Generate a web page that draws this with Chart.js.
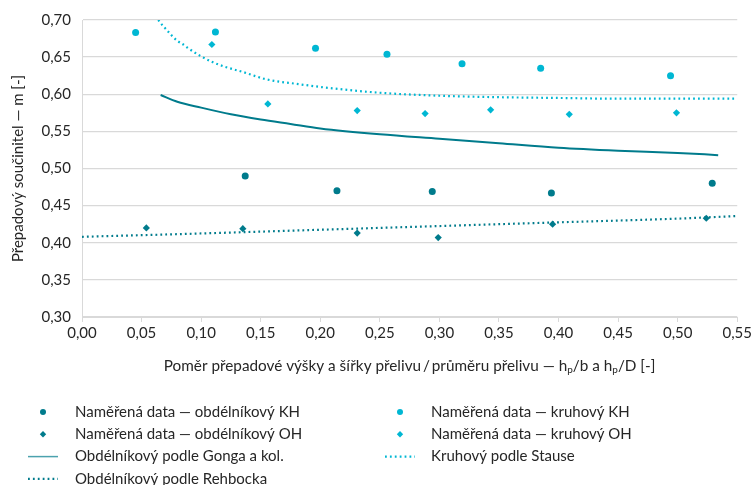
<!DOCTYPE html>
<html>
<head>
<meta charset="utf-8">
<script src="https://cdn.jsdelivr.net/npm/chart.js@4.4.0/dist/chart.umd.min.js"></script>
<style>
  html, body { margin: 0; padding: 0; background: #fff; }
  #chart { display: block; }
</style>
</head>
<body>
<canvas id="chart" width="754" height="485"></canvas>
<script>
// Naměřená data – obdélníkový přeliv
const obdKhX = [0.137, 0.214, 0.294, 0.394, 0.529];
const obdKhY = [0.490, 0.470, 0.469, 0.467, 0.480];
const obdOhX = [0.054, 0.135, 0.231, 0.299, 0.395, 0.524];
const obdOhY = [0.420, 0.419, 0.413, 0.407, 0.425, 0.433];

// Naměřená data – kruhový přeliv
const kruhKhX = [0.045, 0.112, 0.196, 0.256, 0.319, 0.385, 0.494];
const kruhKhY = [0.683, 0.684, 0.662, 0.654, 0.641, 0.635, 0.625];
const kruhOhX = [0.109, 0.156, 0.231, 0.288, 0.343, 0.409, 0.499];
const kruhOhY = [0.667, 0.587, 0.578, 0.574, 0.579, 0.573, 0.575];

// Teoretické křivky
const gongaX = [0.066, 0.080, 0.100, 0.125, 0.150, 0.175, 0.200, 0.250, 0.300, 0.350, 0.400, 0.450, 0.500, 0.534];
const gongaY = [0.599, 0.590, 0.582, 0.573, 0.566, 0.560, 0.554, 0.546, 0.540, 0.534, 0.528, 0.524, 0.521, 0.518];
const stauseX = [0.064, 0.068, 0.072, 0.076, 0.080, 0.085, 0.090, 0.100, 0.110, 0.120, 0.135, 0.155, 0.180, 0.210, 0.250, 0.300, 0.350, 0.400, 0.450, 0.500, 0.550];
const stauseY = [0.700, 0.692, 0.685, 0.678, 0.672, 0.667, 0.661, 0.651, 0.643, 0.637, 0.630, 0.620, 0.614, 0.608, 0.602, 0.598, 0.596, 0.595, 0.594, 0.594, 0.594];
const rehbockX = [0.00, 0.10, 0.20, 0.30, 0.40, 0.50, 0.55];
const rehbockY = [0.408, 0.4125, 0.4175, 0.4225, 0.4275, 0.4325, 0.436];

// Popisky os
const xTicks = [0, 0.05, 0.10, 0.15, 0.20, 0.25, 0.30, 0.35, 0.40, 0.45, 0.50, 0.55];
const yTicks = [0.30, 0.35, 0.40, 0.45, 0.50, 0.55, 0.60, 0.65, 0.70];
const seriesLabels = [
    'Naměřená data — obdélníkový KH',
    'Naměřená data — obdélníkový OH',
    'Obdélníkový podle Gonga a kol.',
    'Obdélníkový podle Rehbocka',
    'Naměřená data — kruhový KH',
    'Naměřená data — kruhový OH',
    'Kruhový podle Stause'
];
const yTitle = 'Přepadový součinitel — m [-]';
const xTitleParts = [
    ['Poměr přepadové výšky a šířky přelivu\u2009/\u2009průměru přelivu — h', false],
    ['p', true],
    ['/b a h', false],
    ['p', true],
    ['/D [-]', false]
];

const colors = {
    dark: '#007b8c',
    light: '#00b7d3',
    grid: '#d9d9d9',
    text: '#262626'
};
const FONT = 'Lato, "Open Sans", sans-serif';
const DOTS = [1.8, 3.1];

function toPoints(xs, ys) {
    return xs.map((x, i) => ({ x: x, y: ys[i] }));
}

function fmt(v) {
    return v.toFixed(2).replace('.', ',');
}

const datasets = [
    { label: seriesLabels[0], data: toPoints(obdKhX, obdKhY), backgroundColor: colors.dark, borderColor: colors.dark,
      pointStyle: 'circle', pointRadius: 3.5, borderWidth: 0 },
    { label: seriesLabels[1], data: toPoints(obdOhX, obdOhY), backgroundColor: colors.dark, borderColor: colors.dark,
      pointStyle: 'rectRot', pointRadius: 3.6, borderWidth: 0 },
    { label: seriesLabels[2], data: toPoints(gongaX, gongaY), borderColor: colors.dark, showLine: true,
      pointRadius: 0, borderWidth: 2, cubicInterpolationMode: 'monotone' },
    { label: seriesLabels[3], data: toPoints(rehbockX, rehbockY), borderColor: colors.dark, showLine: true,
      pointRadius: 0, borderWidth: 2.2, borderDash: DOTS, cubicInterpolationMode: 'monotone' },
    { label: seriesLabels[4], data: toPoints(kruhKhX, kruhKhY), backgroundColor: colors.light, borderColor: colors.light,
      pointStyle: 'circle', pointRadius: 3.5, borderWidth: 0 },
    { label: seriesLabels[5], data: toPoints(kruhOhX, kruhOhY), backgroundColor: colors.light, borderColor: colors.light,
      pointStyle: 'rectRot', pointRadius: 3.6, borderWidth: 0 },
    { label: seriesLabels[6], data: toPoints(stauseX, stauseY), borderColor: colors.light, showLine: true,
      pointRadius: 0, borderWidth: 2.2, borderDash: DOTS, cubicInterpolationMode: 'monotone' }
];

// Legenda ve dvou sloupcích: [index datasetu, sloupec, řádek, typ značky]
const legendLayout = [
    [0, 0, 0, 'circle'], [1, 0, 1, 'diamond'], [2, 0, 2, 'line'], [3, 0, 3, 'dots'],
    [4, 1, 0, 'circle'], [5, 1, 1, 'diamond'], [6, 1, 2, 'dots']
];

const titlesAndLegend = {
    id: 'titlesAndLegend',
    afterDraw(chart) {
        const ctx = chart.ctx;
        const area = chart.chartArea;
        ctx.save();
        ctx.fillStyle = colors.text;
        ctx.textBaseline = 'middle';

        // Název osy Y
        ctx.font = '15px ' + FONT;
        ctx.save();
        ctx.translate(18, (area.top + area.bottom) / 2);
        ctx.rotate(-Math.PI / 2);
        ctx.textAlign = 'center';
        ctx.fillText(yTitle, 0, 0);
        ctx.restore();

        // Název osy X s dolními indexy
        const mainFont = '15.3px ' + FONT;
        const subFont = '10px ' + FONT;
        let total = 0;
        xTitleParts.forEach(p => {
            ctx.font = p[1] ? subFont : mainFont;
            total += ctx.measureText(p[0]).width;
        });
        let x = (area.left + area.right) / 2 - total / 2;
        const ty = 366;
        ctx.textAlign = 'left';
        xTitleParts.forEach(p => {
            ctx.font = p[1] ? subFont : mainFont;
            ctx.fillText(p[0], x, p[1] ? ty + 4 : ty);
            x += ctx.measureText(p[0]).width;
        });

        // Legenda
        ctx.font = '15px ' + FONT;
        legendLayout.forEach(item => {
            const ds = chart.data.datasets[item[0]];
            const mx = item[1] === 0 ? 43 : 400;
            const tx = item[1] === 0 ? 75 : 431;
            const y = 412 + item[2] * 22.3;
            const c = ds.borderColor;
            ctx.fillStyle = c;
            ctx.strokeStyle = c;
            if (item[3] === 'circle') {
                ctx.beginPath();
                ctx.arc(mx, y, 3, 0, Math.PI * 2);
                ctx.fill();
            } else if (item[3] === 'diamond') {
                ctx.beginPath();
                ctx.moveTo(mx, y - 3.2);
                ctx.lineTo(mx + 3.2, y);
                ctx.lineTo(mx, y + 3.2);
                ctx.lineTo(mx - 3.2, y);
                ctx.closePath();
                ctx.fill();
            } else {
                ctx.beginPath();
                ctx.lineWidth = item[3] === 'line' ? 1.5 : 2.2;
                ctx.setLineDash(item[3] === 'dots' ? DOTS : []);
                ctx.globalAlpha = item[3] === 'line' ? 0.7 : 1;
                ctx.moveTo(mx - 15, y);
                ctx.lineTo(mx + 15, y);
                ctx.stroke();
                ctx.setLineDash([]);
                ctx.globalAlpha = 1;
            }
            ctx.fillStyle = colors.text;
            ctx.fillText(ds.label, tx, y);
        });
        ctx.restore();
    }
};

new Chart(document.getElementById('chart'), {
    type: 'scatter',
    data: { datasets: datasets },
    options: {
        responsive: false,
        animation: false,
        devicePixelRatio: 1,
        layout: { padding: { top: 20, right: 16, left: 0, bottom: 0 } },
        plugins: {
            legend: { display: false },
            tooltip: { enabled: false }
        },
        scales: {
            x: {
                type: 'linear',
                min: 0,
                max: 0.55,
                afterBuildTicks: s => { s.ticks = xTicks.map(v => ({ value: v })); },
                afterFit: s => { s.height = 168; },
                grid: { drawOnChartArea: false, drawTicks: true, tickLength: 5, color: colors.grid },
                border: { color: colors.grid },
                ticks: {
                    padding: 2,
                    maxRotation: 0,
                    color: colors.text,
                    font: { family: FONT, size: 15 },
                    callback: v => fmt(v)
                }
            },
            y: {
                type: 'linear',
                min: 0.30,
                max: 0.70,
                afterBuildTicks: s => { s.ticks = yTicks.map(v => ({ value: v })); },
                afterFit: s => { s.width = 82; },
                grid: { drawTicks: false, color: colors.grid, lineWidth: 1.3 },
                border: { color: colors.grid },
                ticks: {
                    padding: 11,
                    color: colors.text,
                    font: { family: FONT, size: 15 },
                    callback: v => fmt(v)
                }
            }
        }
    },
    plugins: [titlesAndLegend]
});
</script>
</body>
</html>
